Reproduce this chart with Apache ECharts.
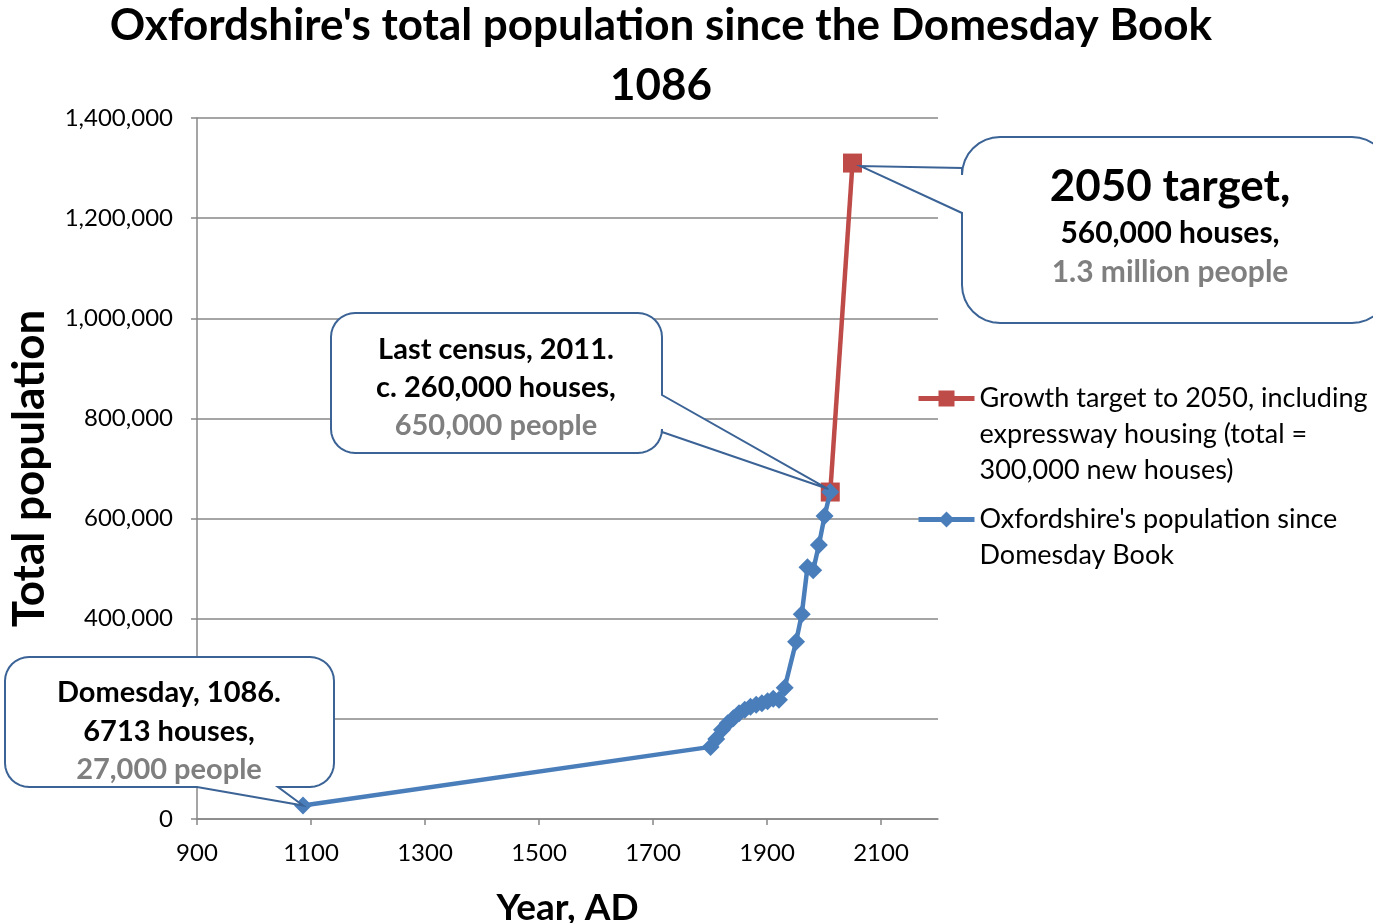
<!DOCTYPE html>
<html>
<head>
<meta charset="utf-8">
<script src="https://cdn.jsdelivr.net/npm/echarts@6/dist/echarts.min.js"></script>
<style>
  html, body { margin: 0; padding: 0; background: #fff; }
  #chart { width: 1373px; height: 923px; }
</style>
</head>
<body>
<div id="chart"></div>
<script>
// census years and population
const popYears = [1086, 1801, 1811, 1821, 1831, 1841, 1851, 1861, 1871, 1881, 1891, 1901, 1911, 1921, 1931, 1951, 1961, 1971, 1981, 1991, 2001, 2011]
const popValues = [27000, 144000, 160000, 178000, 191000, 201000, 211000, 218000, 224000, 228000, 231000, 235000, 240000, 238000, 262000, 354000, 409000, 503000, 497000, 547000, 605000, 653000]
const targetYears = [2011, 2050]
const targetValues = [653000, 1310000]
const xTicks = [900, 1100, 1300, 1500, 1700, 1900, 2100]

const popName = "Oxfordshire's population since Domesday Book"
const targetName = 'Growth target to 2050, including expressway housing (total = 300,000 new houses)'
const legendLines = {
  [popName]: ["Oxfordshire's population since", 'Domesday Book'],
  [targetName]: ['Growth target to 2050, including', 'expressway housing (total =', '300,000 new houses)']
}

const FONT = 'Lato, "Open Sans", sans-serif'
const BLUE = '#4A7EBB'
const RED = '#BE4B48'
const GRID = '#878787'
const EDGE = '#3B6396'

const chart = echarts.init(document.getElementById('chart'))

// legend text is rich so that the top padding pushes the lines down
// and the icon sits next to the first line, as in Excel
const legendItem = (name, top, padTop) => ({
  orient: 'vertical',
  left: 916,
  top,
  padding: 0,
  itemWidth: 56,
  itemHeight: 20,
  data: [name],
  lineStyle: { width: 5 },
  formatter: (n) => legendLines[n].map((l) => `{a|${l}}`).join('\n'),
  textStyle: {
    padding: [padTop, 0, 0, 0],
    rich: { a: { fontFamily: FONT, fontSize: 27, lineHeight: 36, color: '#000' } }
  }
})

chart.setOption({
  animation: false,
  backgroundColor: '#fff',
  title: {
    text: "Oxfordshire's total population since the Domesday Book\n1086",
    left: 656,
    top: -9,
    textAlign: 'center',
    textStyle: { fontFamily: FONT, fontSize: 44, fontWeight: 'bold', lineHeight: 60, color: '#000' }
  },
  legend: [legendItem(targetName, 385, 72), legendItem(popName, 506, 36)],
  grid: { left: 197, right: 435, top: 118, bottom: 104, containLabel: false, outerBoundsMode: 'none' },
  xAxis: {
    type: 'value',
    min: 900,
    max: 2200,
    interval: 200,
    name: 'Year, AD',
    nameLocation: 'middle',
    nameGap: 71,
    nameTextStyle: { fontFamily: FONT, fontSize: 37, fontWeight: 'bold', color: '#000' },
    axisLine: { onZero: false, lineStyle: { color: GRID, width: 1.5 } },
    axisTick: { show: true, length: 6, customValues: xTicks, lineStyle: { color: GRID, width: 1.5 } },
    axisLabel: {
      margin: 22,
      fontFamily: FONT,
      fontSize: 24,
      color: '#000',
      customValues: xTicks,
      formatter: (v) => String(v)
    },
    splitLine: { show: false }
  },
  yAxis: {
    type: 'value',
    min: 0,
    max: 1400000,
    interval: 200000,
    name: 'Total population',
    nameLocation: 'middle',
    nameRotate: 90,
    nameGap: 145,
    nameTextStyle: { fontFamily: FONT, fontSize: 44, fontWeight: 'bold', color: '#000' },
    axisLine: { show: true, lineStyle: { color: GRID, width: 1.5 } },
    axisTick: { show: true, length: 6, lineStyle: { color: GRID, width: 1.5 } },
    axisLabel: {
      margin: 24,
      fontFamily: FONT,
      fontSize: 24,
      color: '#000',
      formatter: (v) => v.toLocaleString('en-US')
    },
    splitLine: { lineStyle: { color: GRID, width: 1.5 } }
  },
  series: [
    {
      name: targetName,
      type: 'line',
      data: targetYears.map((y, i) => [y, targetValues[i]]),
      symbol: 'rect',
      symbolSize: 19,
      color: RED,
      lineStyle: { color: RED, width: 4.5 },
      itemStyle: { color: RED },
      z: 2
    },
    {
      name: popName,
      type: 'line',
      data: popYears.map((y, i) => [y, popValues[i]]),
      symbol: 'diamond',
      symbolSize: 18,
      color: BLUE,
      lineStyle: { color: BLUE, width: 4.5 },
      itemStyle: { color: BLUE },
      z: 3
    }
  ]
})

// rounded box with a pointer wedge on one side
const arc = (cx, cy, r, a0, a1) => {
  const pts = []
  for (let i = 0; i <= 8; i++) {
    const t = ((a0 + (a1 - a0) * i / 8) * Math.PI) / 180
    pts.push([cx + r * Math.cos(t), cy + r * Math.sin(t)])
  }
  return pts
}
const calloutPoints = (x0, y0, x1, y1, r, side, a, b, tip) => {
  let pts = []
  pts = pts.concat(arc(x1 - r, y0 + r, r, -90, 0))
  if (side === 'right') pts.push([x1, a], tip, [x1, b])
  pts = pts.concat(arc(x1 - r, y1 - r, r, 0, 90))
  if (side === 'bottom') pts.push([b, y1], tip, [a, y1])
  pts = pts.concat(arc(x0 + r, y1 - r, r, 90, 180))
  if (side === 'left') pts.push([x0, b], tip, [x0, a])
  pts = pts.concat(arc(x0 + r, y0 + r, r, 180, 270))
  return pts
}
const label = (x, y, text, size, color) => ({
  type: 'text',
  x, y, z: 101,
  style: {
    text,
    fill: color || '#000',
    font: `bold ${size}px ${FONT}`,
    textAlign: 'center',
    textVerticalAlign: 'middle'
  }
})
const box = (points) => ({
  type: 'polygon',
  z: 100,
  shape: { points },
  style: { fill: '#fff', stroke: EDGE, lineWidth: 2 }
})

const tipDomesday = chart.convertToPixel({ gridIndex: 0 }, [popYears[0], popValues[0]])
const tipCensus = chart.convertToPixel({ gridIndex: 0 }, [popYears[popYears.length - 1], popValues[popValues.length - 1]])
const tipTarget = chart.convertToPixel({ gridIndex: 0 }, [targetYears[1], targetValues[1]])

chart.setOption({
  graphic: [
    box(calloutPoints(5, 657, 334, 787, 24, 'bottom', 197, 278, tipDomesday)),
    label(169, 693, 'Domesday, 1086.', 29),
    label(169, 732, '6713 houses,', 29),
    label(169, 770, '27,000 people', 29, '#7F7F7F'),

    box(calloutPoints(331, 313, 662, 453, 24, 'right', 395, 432, [tipCensus[0] - 2, tipCensus[1] - 3])),
    label(496, 350, 'Last census, 2011.', 29),
    label(496, 388, 'c. 260,000 houses,', 29),
    label(496, 426, '650,000 people', 29, '#7F7F7F'),

    box(calloutPoints(962, 137, 1390, 323, 38, 'left', 168, 213, [tipTarget[0] + 8, tipTarget[1] + 3])),
    label(1170, 187, '2050 target,', 44),
    label(1170, 233, '560,000 houses,', 30),
    label(1170, 272, '1.3 million people', 30, '#7F7F7F')
  ]
})
</script>
</body>
</html>
